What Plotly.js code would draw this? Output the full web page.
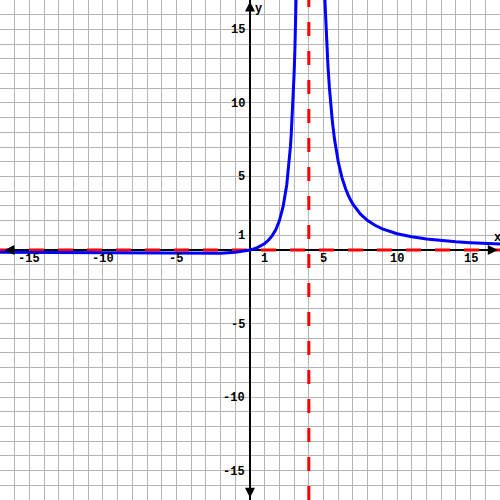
<!DOCTYPE html>
<html>
<head>
<meta charset="utf-8">
<script src="https://cdn.plot.ly/plotly-3.0.1.min.js"></script>
<style>html,body{margin:0;padding:0;background:#fff}#chart{width:500px;height:500px}</style>
</head>
<body>
<div id="chart"></div>
<script>
// Curve samples (left branch and right branch of the graph)
const leftX = [-17, -15, -12, -10, -8, -6, -4, -3, -2, -1, -0.5, -0.25, 0, 0.25, 0.5, 1, 1.25, 1.5, 1.75, 2, 2.25, 2.5, 2.6, 2.75, 2.8, 2.9, 3.0, 3.05, 3.1, 3.2];
const leftY = [-0.154, -0.166, -0.188, -0.204, -0.222, -0.24, -0.25, -0.245, -0.222, -0.16, -0.099, -0.055, 0, 0.071, 0.163, 0.444, 0.66, 0.96, 1.38, 2.0, 2.94, 4.44, 5.31, 7.04, 7.78, 9.59, 12.0, 13.52, 15.31, 20.0];
const rightX = [4.8, 4.9, 5.0, 5.1, 5.2, 5.3, 5.4, 5.5, 5.6, 5.75, 6, 6.25, 6.5, 6.75, 7, 7.5, 8, 8.5, 9, 10, 11, 12, 13, 14, 15, 16, 17];
const rightY = [30.0, 24.2, 20.0, 16.86, 14.44, 12.54, 11.02, 9.78, 8.75, 7.51, 6.0, 4.94, 4.16, 3.57, 3.11, 2.45, 2.0, 1.68, 1.44, 1.11, 0.898, 0.75, 0.642, 0.56, 0.496, 0.444, 0.402];
// Asymptotes
const vAsymptote = 4;
const hAsymptote = 0;
// Axis range and tick labels
const axisMin = -17, axisMax = 17;
const xTickVals = [-15, -10, -5, 1, 5, 10, 15];
const yTickVals = [15, 10, 5, 1, -5, -10, -15];

const font = {family: '"Liberation Mono", "Courier New", monospace', size: 12, color: '#000', weight: 'bold'};

const traces = [
  {x: [axisMin, axisMax], y: [hAsymptote, hAsymptote], mode: 'lines', line: {color: '#ff0000', width: 3, dash: '15px,14px'}, hoverinfo: 'skip'},
  {x: [vAsymptote, vAsymptote], y: [axisMin, axisMax], mode: 'lines', line: {color: '#ff0000', width: 3, dash: '14px,15px'}, hoverinfo: 'skip'},
  {x: leftX, y: leftY, mode: 'lines', line: {color: '#0000ff', width: 3}, hoverinfo: 'skip'},
  {x: rightX, y: rightY, mode: 'lines', line: {color: '#0000ff', width: 3}, hoverinfo: 'skip'}
];

const annotations = [];
xTickVals.forEach(v => annotations.push({x: v, y: 0, xref: 'x', yref: 'y', text: '<b>' + v + '</b>', showarrow: false, font: font, xanchor: 'center', yanchor: 'middle', yshift: -9}));
yTickVals.forEach(v => annotations.push({x: 0, y: v, xref: 'x', yref: 'y', text: '<b>' + v + '</b>', showarrow: false, font: font, xanchor: 'right', yanchor: 'middle', xshift: -3, yshift: -1}));
annotations.push({x: 16.8, y: 0.85, text: '<b>x</b>', showarrow: false, font: font, xanchor: 'center', yanchor: 'middle'});
annotations.push({x: 0.55, y: 16.4, text: '<b>y</b>', showarrow: false, font: font, xanchor: 'center', yanchor: 'middle'});
// arrowheads on axes
const arrowCommon = {text: '', showarrow: true, arrowhead: 2, arrowsize: 1, arrowwidth: 2, arrowcolor: '#000', xref: 'x', yref: 'y', axref: 'pixel', ayref: 'pixel'};
annotations.push(Object.assign({x: 16.85, y: 0, ax: -12, ay: 0}, arrowCommon));
annotations.push(Object.assign({x: -16.7, y: 0, ax: 12, ay: 0}, arrowCommon));
annotations.push(Object.assign({x: 0, y: 16.9, ax: 0, ay: 12}, arrowCommon));
annotations.push(Object.assign({x: 0, y: -16.85, ax: 0, ay: -12}, arrowCommon));

const layout = {
  width: 500, height: 500,
  margin: {l: 0, r: 0, t: 0, b: 0, pad: 0},
  paper_bgcolor: '#fff', plot_bgcolor: '#fff',
  showlegend: false,
  xaxis: {range: [axisMin, axisMax], dtick: 1, tick0: 0, showgrid: true, gridcolor: '#b4b4b4', gridwidth: 1,
          zeroline: true, zerolinecolor: '#000', zerolinewidth: 2, showticklabels: false, ticks: '',
          showline: true, linecolor: '#000', linewidth: 1, mirror: true, fixedrange: true},
  yaxis: {range: [axisMin, axisMax], dtick: 1, tick0: 0, showgrid: true, gridcolor: '#b4b4b4', gridwidth: 1,
          zeroline: true, zerolinecolor: '#000', zerolinewidth: 2, showticklabels: false, ticks: '',
          showline: true, linecolor: '#000', linewidth: 1, mirror: true, fixedrange: true},
  annotations: annotations
};

Plotly.newPlot('chart', traces, layout, {displayModeBar: false, staticPlot: true});
</script>
</body>
</html>
